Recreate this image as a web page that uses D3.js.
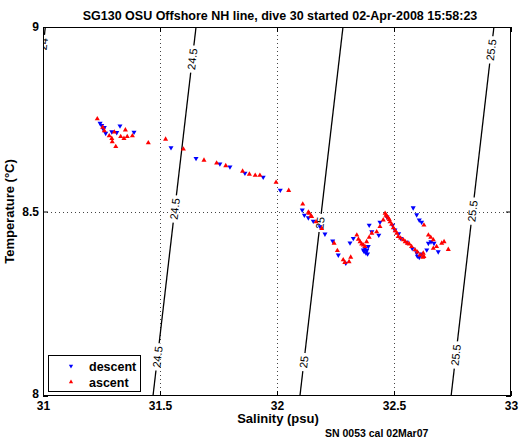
<!DOCTYPE html>
<html><head><meta charset="utf-8">
<script src="https://cdn.jsdelivr.net/npm/d3@7"></script>
<style>
body{margin:0;background:#fff}
svg{display:block}
text{font-family:"Liberation Sans",Arial,Helvetica,sans-serif}
</style>
</head><body><svg id="c" width="522" height="442"></svg>
<script>
// ---------- data ----------
const titleText = "SG130 OSU Offshore NH line, dive 30 started 02-Apr-2008 15:58:23";
const xLabel = "Salinity (psu)";
const yLabel = "Temperature (\u00B0C)";
const footText = "SN 0053 cal 02Mar07";
const xTicks = [31, 31.5, 32, 32.5, 33];
const yTicks = [8, 8.5, 9];
const xTickLabels = ["31", "31.5", "32", "32.5", "33"];
const yTickLabels = ["8", "8.5", "9"];

// density (sigma-theta) contours: salinity where each level crosses T=8 and T=9
const sigmaLevels = [24, 24.5, 25, 25.5];
const sigmaSalAtT8 = [30.826, 31.470, 32.098, 32.744];
const sigmaSalAtT9 = [31.010, 31.654, 32.282, 32.927];
// contour labels: level and temperature at which the label sits
const labelLevels = [24, 24.5, 24.5, 24.5, 25, 25, 25.5, 25.5, 25.5];
const labelTemps  = [8.954, 8.913, 8.507, 8.106, 8.469, 8.092, 8.938, 8.501, 8.111];

const descSal = [31.244,31.251,31.258,31.268,31.262,31.294,31.315,31.329,31.389,31.547,31.654,31.756,31.799,31.863,31.941,32.014,32.108,32.117,32.134,32.155,32.184,32.205,32.238,32.262,32.294,32.312,32.326,32.369,32.380,32.390,32.372,32.376,32.384,32.387,32.394,32.405,32.435,32.440,32.470,32.494,32.504,32.520,32.529,32.554,32.578,32.597,32.618,32.640,32.647,32.658,32.671,32.689,32.582,32.597,32.608,32.618,32.608,32.600];
const descTemp = [8.739,8.733,8.723,8.712,8.728,8.716,8.714,8.732,8.715,8.673,8.644,8.629,8.621,8.604,8.593,8.558,8.504,8.490,8.483,8.474,8.459,8.439,8.420,8.382,8.360,8.415,8.427,8.396,8.388,8.405,8.392,8.400,8.395,8.385,8.463,8.445,8.436,8.471,8.485,8.463,8.450,8.440,8.427,8.417,8.400,8.388,8.385,8.396,8.414,8.418,8.414,8.391,8.510,8.491,8.477,8.471,8.376,8.379];

const ascSal = [31.232,31.255,31.262,31.283,31.294,31.296,31.305,31.311,31.332,31.346,31.352,31.360,31.382,31.450,31.524,31.600,31.688,31.742,31.781,31.853,31.882,31.907,31.927,31.996,32.050,32.110,32.134,32.138,32.145,32.148,32.167,32.191,32.244,32.258,32.283,32.290,32.308,32.315,32.341,32.348,32.355,32.362,32.369,32.376,32.383,32.394,32.405,32.426,32.440,32.454,32.462,32.466,32.470,32.476,32.480,32.483,32.490,32.497,32.505,32.512,32.518,32.528,32.540,32.548,32.557,32.565,32.575,32.590,32.600,32.611,32.628,32.625,32.623,32.668,32.682,32.704,32.714,32.732,32.628,32.647,32.657,32.668];
const ascTemp = [8.751,8.728,8.719,8.705,8.698,8.689,8.715,8.676,8.703,8.698,8.721,8.703,8.705,8.686,8.696,8.669,8.639,8.631,8.624,8.609,8.601,8.598,8.598,8.579,8.557,8.520,8.498,8.495,8.488,8.486,8.472,8.454,8.414,8.394,8.369,8.362,8.364,8.376,8.436,8.425,8.418,8.412,8.409,8.405,8.418,8.430,8.441,8.445,8.459,8.477,8.495,8.490,8.487,8.482,8.478,8.472,8.465,8.456,8.448,8.441,8.432,8.428,8.423,8.418,8.414,8.412,8.405,8.396,8.390,8.382,8.378,8.387,8.376,8.400,8.405,8.414,8.418,8.397,8.463,8.436,8.430,8.423];

// ---------- chart ----------
const svg = d3.select("#c");
const x = d3.scaleLinear().domain([31, 33]).range([43, 511]);
const y = d3.scaleLinear().domain([8, 9]).range([396, 27]);

svg.append("defs").append("clipPath").attr("id", "clip")
  .append("rect").attr("x", x(31)).attr("y", y(9))
  .attr("width", x(33) - x(31)).attr("height", y(8) - y(9));

// grid
const grid = svg.append("g").attr("stroke", "#444").attr("stroke-width", 1)
  .attr("stroke-dasharray", "1,3");
grid.selectAll("line.gx").data(xTicks.slice(1, -1)).join("line")
  .attr("x1", d => Math.round(x(d)) + 0.5).attr("x2", d => Math.round(x(d)) + 0.5)
  .attr("y1", y(9)).attr("y2", y(8));
grid.selectAll("line.gy").data(yTicks.slice(1, -1)).join("line")
  .attr("y1", d => Math.round(y(d)) + 0.5).attr("y2", d => Math.round(y(d)) + 0.5)
  .attr("x1", x(31)).attr("x2", x(33));

// contours
const cg = svg.append("g").attr("clip-path", "url(#clip)");
const lineGen = d3.line().x(d => x(d[0])).y(d => y(d[1]));
sigmaLevels.forEach((lev, i) => {
  cg.append("path")
    .attr("d", lineGen([[sigmaSalAtT8[i], 8], [sigmaSalAtT9[i], 9]]))
    .attr("fill", "none").attr("stroke", "#000").attr("stroke-width", 1.3);
});
labelLevels.forEach((lev, j) => {
  const i = sigmaLevels.indexOf(lev);
  const T = labelTemps[j];
  const S = sigmaSalAtT8[i] + (T - 8) * (sigmaSalAtT9[i] - sigmaSalAtT8[i]);
  const ang = Math.atan2(y(9) - y(8), x(sigmaSalAtT9[i]) - x(sigmaSalAtT8[i])) * 180 / Math.PI;
  const g = cg.append("g").attr("transform", `translate(${x(S)},${y(T)}) rotate(${ang})`);
  const r = g.append("rect").attr("fill", "#fff");
  const t = g.append("text").attr("text-anchor", "middle").attr("dy", "0.35em")
    .attr("font-size", 11).attr("fill", "#000").text(String(lev));
  const len = t.node().getComputedTextLength();
  r.attr("x", -len / 2 - 3).attr("y", -3).attr("width", len + 6).attr("height", 6);
});

// points
const pg = svg.append("g").attr("clip-path", "url(#clip)");
const tri = d3.symbol().type(d3.symbolTriangle).size(11);
const desc = descSal.map((s, i) => [s, descTemp[i]]);
const asc = ascSal.map((s, i) => [s, ascTemp[i]]);
pg.selectAll("path.d").data(desc).join("path")
  .attr("d", tri).attr("fill", "#0000ff")
  .attr("transform", d => `translate(${x(d[0])},${y(d[1])}) rotate(180)`);
pg.selectAll("path.a").data(asc).join("path")
  .attr("d", tri).attr("fill", "#ff0000")
  .attr("transform", d => `translate(${x(d[0])},${y(d[1])})`);

// axes
const fs = 12;
const axB = svg.append("g").attr("transform", `translate(0,${y(8)})`)
  .call(d3.axisBottom(x).tickValues(xTicks).tickFormat((d, i) => xTickLabels[i]).tickSizeInner(-5).tickSizeOuter(0).tickPadding(5));
const axL = svg.append("g").attr("transform", `translate(${x(31)},0)`)
  .call(d3.axisLeft(y).tickValues(yTicks).tickFormat((d, i) => yTickLabels[i]).tickSizeInner(-5).tickSizeOuter(0).tickPadding(4));
const axT = svg.append("g").attr("transform", `translate(0,${y(9)})`)
  .call(d3.axisTop(x).tickValues(xTicks).tickFormat("").tickSizeInner(-5).tickSizeOuter(0));
const axR = svg.append("g").attr("transform", `translate(${x(33)},0)`)
  .call(d3.axisRight(y).tickValues(yTicks).tickFormat("").tickSizeInner(-5).tickSizeOuter(0));
[axB, axL, axT, axR].forEach(a => {
  a.select(".domain").remove();
  a.selectAll("line").attr("stroke", "#000");
  a.selectAll("text").attr("font-size", fs).attr("font-weight", "bold").attr("fill", "#000")
    .attr("font-family", '"Liberation Sans",Arial,sans-serif');
});
// nudge the lowest y label up a little so it does not collide with "31"
axL.selectAll(".tick text").filter(d => d === 8).attr("dy", "0.1em");
svg.append("rect").attr("x", x(31) + 0.5).attr("y", y(9) + 0.5)
  .attr("width", x(33) - x(31) - 1).attr("height", y(8) - y(9) - 1)
  .attr("fill", "none").attr("stroke", "#000").attr("stroke-width", 1);

// title & labels
svg.append("text").attr("x", (x(31) + x(33)) / 2 + 3).attr("y", 20).attr("text-anchor", "middle")
  .attr("font-size", 12.5).attr("font-weight", "bold").text(titleText);
svg.append("text").attr("x", (x(31) + x(33)) / 2 + 1).attr("y", 423).attr("text-anchor", "middle")
  .attr("font-size", 13).attr("font-weight", "bold").text(xLabel);
svg.append("text").attr("transform", `translate(14,${(y(8) + y(9)) / 2}) rotate(-90)`)
  .attr("text-anchor", "middle").attr("font-size", 13).attr("font-weight", "bold").text(yLabel);
svg.append("text").attr("x", 325).attr("y", 437)
  .attr("font-size", 10.5).attr("font-weight", "bold").text(footText);

// legend
const lg = svg.append("g");
lg.append("rect").attr("x", 48.5).attr("y", 355.5).attr("width", 92).attr("height", 36)
  .attr("fill", "#fff").attr("stroke", "#000").attr("stroke-width", 1);
const legItems = [["descent", "#0000ff", 180], ["ascent", "#ff0000", 0]];
legItems.forEach((it, i) => {
  const yy = 366 + i * 16;
  lg.append("path").attr("d", d3.symbol().type(d3.symbolTriangle).size(8))
    .attr("fill", it[1]).attr("transform", `translate(71,${yy}) rotate(${it[2]})`);
  lg.append("text").attr("x", 89).attr("y", yy + 4.5).attr("font-size", 12.5)
    .attr("font-weight", "bold").text(it[0]);
});
</script>
</body></html>
